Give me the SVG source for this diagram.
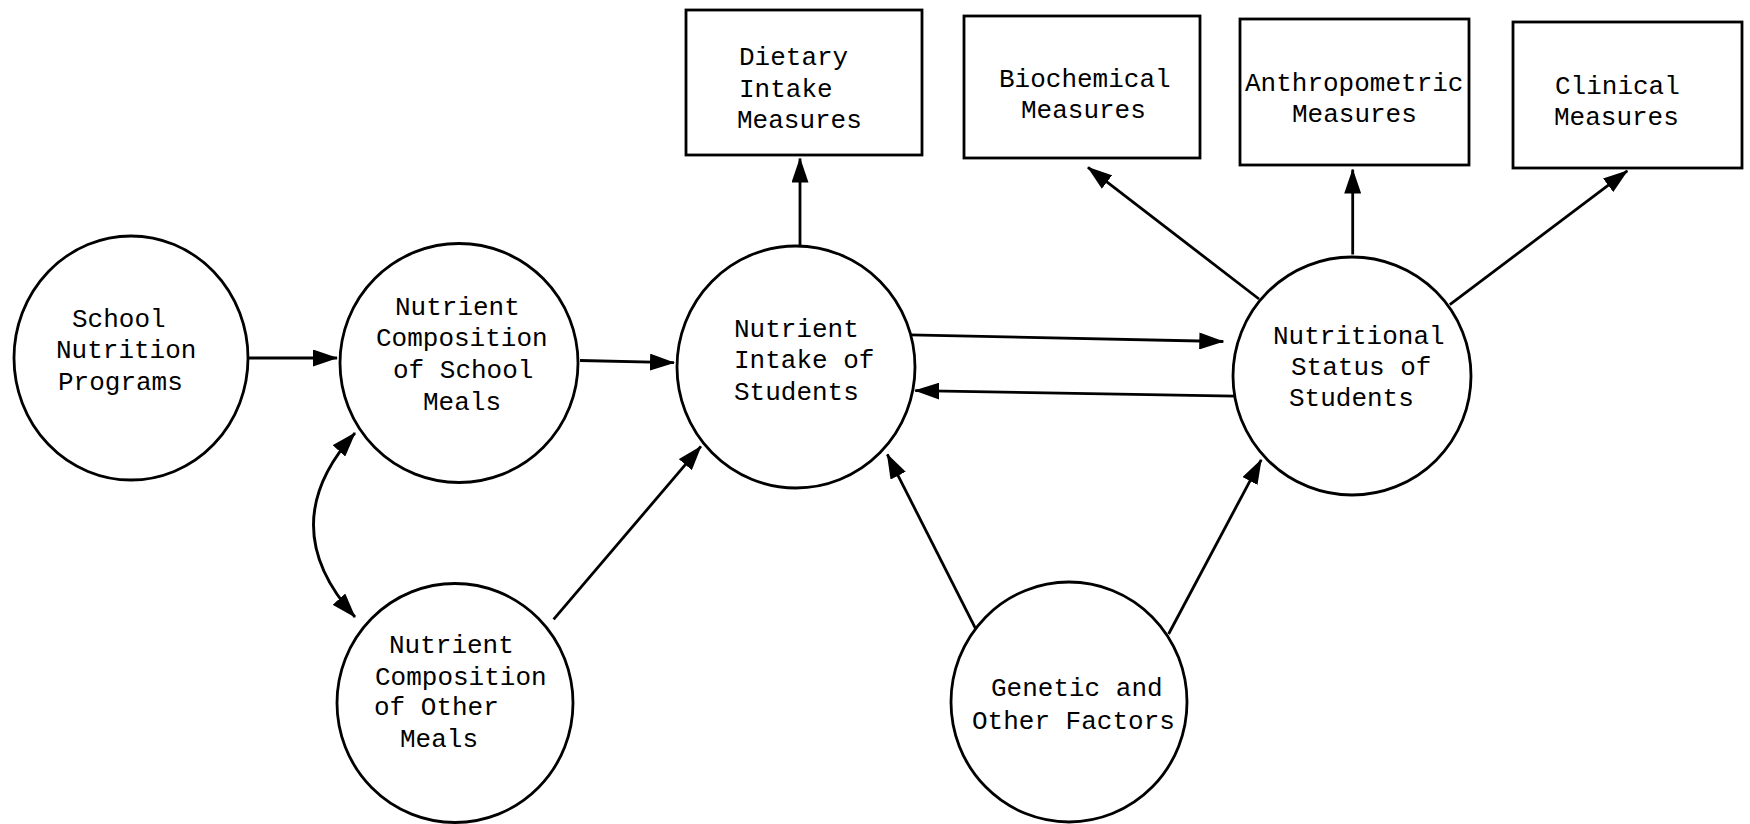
<svg xmlns="http://www.w3.org/2000/svg" width="1750" height="824" viewBox="0 0 1750 824">
<style>
.n{fill:#fff;stroke:#000;stroke-width:2.8}
.t{font-family:"Liberation Mono","DejaVu Sans Mono",monospace;font-size:26px;fill:#000}
.c{fill:none;stroke:#000;stroke-width:2.8}
</style>
<defs>
<marker id="ah" viewBox="0 0 25 17" markerWidth="25" markerHeight="17" refX="24" refY="8.5" orient="auto-start-reverse" markerUnits="userSpaceOnUse">
<path d="M0,0 L25,8.5 L0,17 z" fill="#000"/>
</marker>
</defs>
<rect width="1750" height="824" fill="#fff"/>
<g id="connectors">
<line class="c" x1="248" y1="358" x2="337" y2="358" marker-end="url(#ah)"/>
<line class="c" x1="580" y1="360.5" x2="674" y2="362.7" marker-end="url(#ah)"/>
<line class="c" x1="553.6" y1="619.4" x2="700.9" y2="446.4" marker-end="url(#ah)"/>
<path class="c" d="M355,433 Q272,525 355,617" marker-start="url(#ah)" marker-end="url(#ah)"/>
<line class="c" x1="800" y1="245.5" x2="800" y2="158.5" marker-end="url(#ah)"/>
<line class="c" x1="909.6" y1="334.8" x2="1223.3" y2="341.5" marker-end="url(#ah)"/>
<line class="c" x1="1235.5" y1="396.2" x2="915.2" y2="390.6" marker-end="url(#ah)"/>
<line class="c" x1="976.6" y1="630.6" x2="887.3" y2="454.3" marker-end="url(#ah)"/>
<line class="c" x1="1168.6" y1="634" x2="1261.2" y2="459.8" marker-end="url(#ah)"/>
<line class="c" x1="1259" y1="299" x2="1088" y2="167.4" marker-end="url(#ah)"/>
<line class="c" x1="1352.7" y1="254.5" x2="1352.7" y2="169.6" marker-end="url(#ah)"/>
<line class="c" x1="1449.8" y1="304.7" x2="1627.3" y2="170.8" marker-end="url(#ah)"/>
</g>
<g id="school-nutrition-programs">
<ellipse class="n" cx="131" cy="358" rx="117" ry="122"/>
<text class="t" x="72" y="327">School</text>
<text class="t" x="56" y="358">Nutrition</text>
<text class="t" x="58" y="390">Programs</text>
</g>
<g id="nutrient-composition-school">
<ellipse class="n" cx="459" cy="363" rx="119" ry="119.5"/>
<text class="t" x="395" y="315">Nutrient</text>
<text class="t" x="376" y="346">Composition</text>
<text class="t" x="393" y="378">of School</text>
<text class="t" x="423" y="410">Meals</text>
</g>
<g id="nutrient-composition-other">
<ellipse class="n" cx="455" cy="703" rx="118" ry="119.5"/>
<text class="t" x="389" y="653">Nutrient</text>
<text class="t" x="375" y="685">Composition</text>
<text class="t" x="374" y="715">of Other</text>
<text class="t" x="400" y="747">Meals</text>
</g>
<g id="nutrient-intake">
<ellipse class="n" cx="796" cy="367" rx="119" ry="121"/>
<text class="t" x="734" y="337">Nutrient</text>
<text class="t" x="734" y="368">Intake of</text>
<text class="t" x="734" y="400">Students</text>
</g>
<g id="nutritional-status">
<ellipse class="n" cx="1352" cy="376" rx="119" ry="119"/>
<text class="t" x="1273" y="344">Nutritional</text>
<text class="t" x="1291" y="375">Status of</text>
<text class="t" x="1289" y="406">Students</text>
</g>
<g id="genetic-factors">
<ellipse class="n" cx="1069" cy="702" rx="118" ry="120"/>
<text class="t" x="991" y="696">Genetic and</text>
<text class="t" x="972" y="729">Other Factors</text>
</g>
<g id="dietary-intake-measures">
<rect class="n" x="686" y="10" width="236" height="145"/>
<text class="t" x="739" y="65">Dietary</text>
<text class="t" x="739" y="97">Intake</text>
<text class="t" x="737" y="128">Measures</text>
</g>
<g id="biochemical-measures">
<rect class="n" x="964" y="16" width="236" height="142"/>
<text class="t" x="999" y="87">Biochemical</text>
<text class="t" x="1021" y="118">Measures</text>
</g>
<g id="anthropometric-measures">
<rect class="n" x="1240" y="19" width="229" height="146"/>
<text class="t" x="1245" y="91">Anthropometric</text>
<text class="t" x="1292" y="122">Measures</text>
</g>
<g id="clinical-measures">
<rect class="n" x="1513" y="22" width="229" height="146"/>
<text class="t" x="1555" y="94">Clinical</text>
<text class="t" x="1554" y="125">Measures</text>
</g>
</svg>
